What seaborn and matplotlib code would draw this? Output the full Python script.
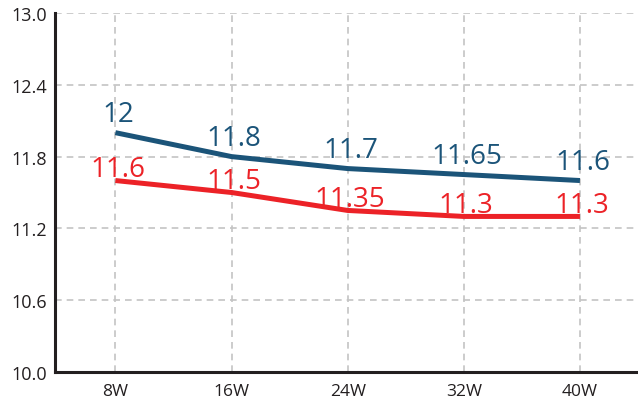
import matplotlib
matplotlib.use("Agg")
import matplotlib.pyplot as plt
import seaborn as sns
import pandas as pd

categories = ["8W", "16W", "24W", "32W", "40W"]
blue_values = [12, 11.8, 11.7, 11.65, 11.6]
red_values = [11.6, 11.5, 11.35, 11.3, 11.3]
blue_labels = ["12", "11.8", "11.7", "11.65", "11.6"]
red_labels = ["11.6", "11.5", "11.35", "11.3", "11.3"]
yticks = [10.0, 10.6, 11.2, 11.8, 12.4, 13.0]

sns.set_theme(style="white")
plt.rcParams['font.family'] = ['Open Sans', 'DejaVu Sans']

BLUE = "#1b5479"
RED = "#ec2227"
DARK = "#231f20"

df = pd.DataFrame({
    "x": list(range(len(categories))) * 2,
    "y": blue_values + red_values,
    "s": ["blue"] * len(categories) + ["red"] * len(categories),
})

fig = plt.figure(figsize=(6.38, 4.02), dpi=100)
ax = fig.add_axes([55 / 638, 1 - 373 / 402, (638 - 55) / 638, (373 - 14) / 402])

sns.lineplot(data=df, x="x", y="y", hue="s", palette={"blue": BLUE, "red": RED},
             linewidth=3.6, legend=False, ax=ax, solid_capstyle="butt",
             solid_joinstyle="round")

for i, (v, t) in enumerate(zip(blue_values, blue_labels)):
    ax.annotate(t, (i, v), xytext=(2, 8.5), textcoords="offset points",
                ha="center", va="baseline", color=BLUE, fontsize=20)
for i, (v, t) in enumerate(zip(red_values, red_labels)):
    ax.annotate(t, (i, v), xytext=(1.5, 3.5), textcoords="offset points",
                ha="center", va="baseline", color=RED, fontsize=20)

ax.set_xlim(-0.52, 4.5)
ax.set_ylim(10.0, 13.0)
ax.set_xticks(range(len(categories)))
ax.set_xticklabels(categories, fontsize=12.5, color=DARK)
ax.set_yticks(yticks)
ax.set_yticklabels([f"{v:.1f}" for v in yticks], fontsize=13, color=DARK)
ax.set_xlabel("")
ax.set_ylabel("")
ax.grid(True, color="#c4c4c4", linestyle=(0, (4, 3)), linewidth=1.2)
ax.set_axisbelow(True)
for s in ["top", "right"]:
    ax.spines[s].set_visible(False)
for s in ["left", "bottom"]:
    ax.spines[s].set_color(DARK)
    ax.spines[s].set_linewidth(2.2)
ax.tick_params(axis="x", length=0, pad=8)
ax.tick_params(axis="y", length=0, pad=6)

fig.savefig("out.png", dpi=100)
